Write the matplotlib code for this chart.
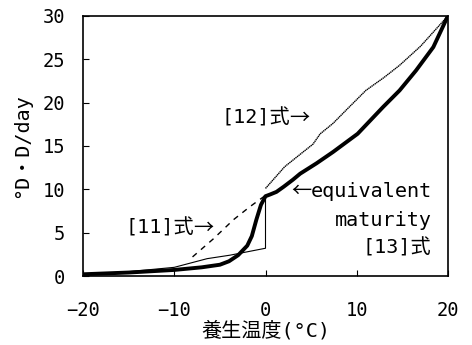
import matplotlib.pyplot as plt

plt.rcParams['font.family'] = ['DejaVu Sans Mono', 'Noto Sans CJK JP']

# equivalent maturity ([13]式) - thick line
t_eq = [-20, -15, -10, -7, -5, -4, -3, -2, -1.5, -1, -0.5, 0, 0.5, 1.2, 2, 3, 3.8, 5.6, 7.4, 10.1, 12.9, 14.7, 16.5, 18.4, 20]
d_eq = [0.2, 0.4, 0.7, 1.0, 1.3, 1.7, 2.4, 3.5, 4.6, 6.5, 8.2, 9.2, 9.4, 9.7, 10.3, 11.1, 11.8, 13.0, 14.3, 16.4, 19.5, 21.4, 23.7, 26.4, 30]

# [12]式 - thin line (above 0°C)
t_12 = [0, 2.1, 4, 5.2, 6, 7.4, 9, 11, 13, 14.7, 17, 20]
d_12 = [10.1, 12.6, 14.2, 15.2, 16.4, 17.6, 19.3, 21.4, 22.9, 24.3, 26.5, 30]

# [11]式 - dashed line (below 0°C)
t_11 = [-8, -5.7, -3.5, -1.7, 0]
d_11 = [2.2, 4.3, 6.5, 8.0, 9.3]

# thin step line
t_st = [-20, -15, -10, -6.4, -3.9, 0, 0]
d_st = [0.2, 0.5, 1.0, 2.0, 2.4, 3.2, 9.3]

fig = plt.figure(figsize=(4.72, 3.45), dpi=100)
ax = fig.add_axes([0.176, 0.2, 0.773, 0.754])

ax.plot(t_st, d_st, color='black', lw=0.8)
ax.plot(t_11, d_11, color='black', lw=1.0, ls=(0, (4, 4)))
ax.plot(t_12, d_12, color='black', lw=1.0, ls=(0, (1, 0.4)))
ax.plot(t_eq, d_eq, color='black', lw=2.8)

ax.set_xlim(-20, 20)
ax.set_ylim(0, 30)
ax.set_xticks([-20, -10, 0, 10, 20])
ax.set_xticklabels(['\u221220', '\u221210', '0', '10', '20'])
ax.set_yticks([0, 5, 10, 15, 20, 25, 30])
ax.tick_params(direction='in', length=4, labelsize=13.5)
ax.tick_params(axis='x', pad=18)
ax.tick_params(axis='y', pad=13)
for s in ax.spines.values():
    s.set_linewidth(1.2)

ax.set_xlabel('養生温度(°C)', fontsize=14.5, labelpad=1)
ax.set_ylabel('°D・D/day', fontsize=14.5, labelpad=8)

fs = 14.5
ax.text(-4.8, 18.2, '[12]式', fontsize=fs, va='center', ha='left')
ax.text(2.6, 18.2, '→', fontsize=fs, va='center', ha='left', family='Noto Sans CJK JP')
ax.text(-15.3, 5.5, '[11]式', fontsize=fs, va='center', ha='left')
ax.text(-7.9, 5.5, '→', fontsize=fs, va='center', ha='left', family='Noto Sans CJK JP')
ax.text(18.2, 9.7, 'equivalent', fontsize=fs, va='center', ha='right')
ax.text(5.05, 9.7, '←', fontsize=fs, va='center', ha='right', family='Noto Sans CJK JP')
ax.text(18.2, 6.4, 'maturity', fontsize=fs, va='center', ha='right')
ax.text(18.2, 3.2, '[13]式', fontsize=fs, va='center', ha='right')

fig.savefig('out.png', dpi=100)
